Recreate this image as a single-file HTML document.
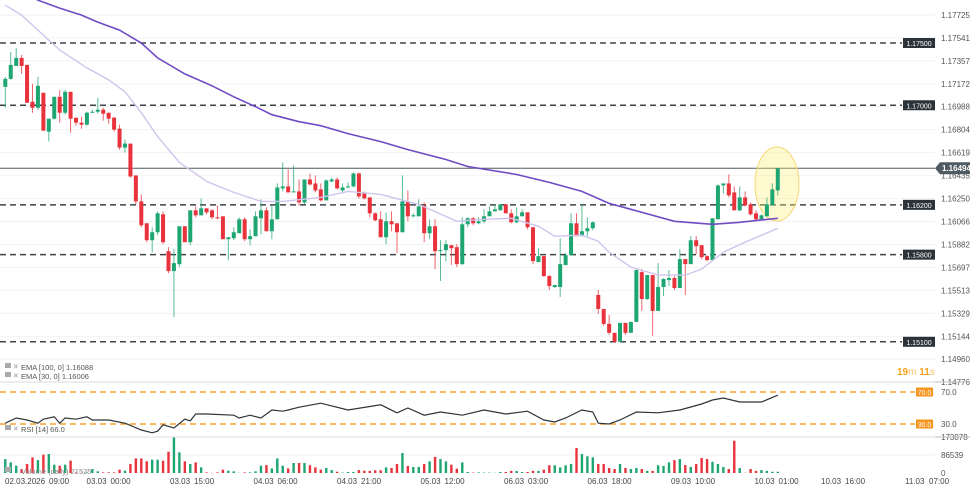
<!DOCTYPE html>
<html><head><meta charset="utf-8"><style>
html,body{margin:0;padding:0;background:#fff;}
body{width:970px;height:492px;overflow:hidden;font-family:"Liberation Sans",sans-serif;}
svg text{font-family:"Liberation Sans",sans-serif;}
</style></head><body>
<svg id="chart" width="970" height="492" viewBox="0 0 970 492" xmlns="http://www.w3.org/2000/svg">
<g id="grid"></g>
<g id="levels"></g>
<ellipse cx="777" cy="184" rx="22" ry="37" fill="rgba(255,238,120,0.35)" stroke="#f6d872" stroke-width="1"/>
<g id="candles"></g>
<g id="emas"></g>
<g id="rsi"></g>
<g id="vol"></g>
<g id="axis"></g>
<line x1="0" y1="382" x2="935" y2="382" stroke="#dcdcdc"/>
<line x1="0" y1="437" x2="935" y2="437" stroke="#dcdcdc"/>
<line x1="935" y1="382" x2="970" y2="382" stroke="#bbb"/>
<line x1="935" y1="437" x2="970" y2="437" stroke="#bbb"/>
<g><rect x="5" y="363" width="6" height="5" fill="#aaa"/><text x="13" y="369" font-size="7" fill="#999">✕</text><text x="21" y="370" font-size="7.5" fill="#555">EMA [100, 0] 1.16088</text></g>
<g><rect x="5" y="372" width="6" height="5" fill="#aaa"/><text x="13" y="378" font-size="7" fill="#999">✕</text><text x="21" y="379" font-size="7.5" fill="#555">EMA [30, 0] 1.16006</text></g>
<g><rect x="5" y="425" width="6" height="5" fill="#aaa"/><text x="13" y="431" font-size="7" fill="#999">✕</text><text x="21" y="432" font-size="7.5" fill="#555">RSI [14] 66.0</text></g>
<g><rect x="5" y="467" width="6" height="5" fill="#aaa"/><text x="21" y="474" font-size="7.5" fill="#888">Volume (daily) 21525</text></g>
<text x="897" y="375" font-size="10" fill="#f7a21c" font-weight="bold">19<tspan font-weight="normal" fill="#f9c06b">m</tspan> 11<tspan font-weight="normal" fill="#f9c06b">s</tspan></text>
</svg>
<script>
const opens=[1.17148,1.17212,1.17316,1.17380,1.17324,1.17028,1.16980,1.17100,1.16788,1.16892,1.17068,1.16940,1.17108,1.16900,1.16860,1.16844,1.16940,1.16948,1.16964,1.16940,1.16900,1.16812,1.16660,1.16692,1.16436,1.16228,1.16052,1.15916,1.15980,1.16124,1.15828,1.15668,1.15724,1.16028,1.15900,1.16156,1.16116,1.16172,1.16156,1.16100,1.16108,1.15924,1.15932,1.15972,1.16084,1.15924,1.15948,1.16092,1.16156,1.15988,1.16084,1.16332,1.16348,1.16300,1.16308,1.16220,1.16404,1.16372,1.16324,1.16236,1.16388,1.16404,1.16316,1.16340,1.16348,1.16452,1.16292,1.16260,1.16132,1.16084,1.15940,1.16068,1.16052,1.15980,1.16228,1.16108,1.16108,1.16196,1.15972,1.16028,1.15828,1.15836,1.15876,1.15860,1.15724,1.16044,1.16092,1.16052,1.16068,1.16108,1.16148,1.16156,1.16204,1.16132,1.16060,1.16108,1.16140,1.16020,1.15740,1.15788,1.15628,1.15540,1.15540,1.15716,1.15796,1.16052,1.15948,1.15988,1.16012,1.15476,1.15364,1.15244,1.15172,1.15100,1.15252,1.15172,1.15260,1.15660,1.15444,1.15636,1.15348,1.15540,1.15596,1.15612,1.15532,1.15764,1.15724,1.15916,1.15876,1.15788,1.15756,1.16084,1.16356,1.16372,1.16300,1.16156,1.16260,1.16204,1.16132,1.16084,1.16108,1.16196,1.16316];
const highs=[1.17228,1.17428,1.17460,1.17404,1.17324,1.17172,1.17228,1.17100,1.16892,1.17068,1.17124,1.17124,1.17108,1.16900,1.16908,1.16948,1.16964,1.17060,1.16980,1.16940,1.16908,1.16844,1.16724,1.16692,1.16436,1.16284,1.16052,1.16020,1.16148,1.16148,1.15860,1.15844,1.16028,1.16028,1.16156,1.16188,1.16252,1.16172,1.16164,1.16196,1.16108,1.15940,1.16020,1.16100,1.16100,1.16004,1.16148,1.16244,1.16180,1.16196,1.16372,1.16540,1.16484,1.16516,1.16404,1.16404,1.16452,1.16436,1.16372,1.16404,1.16420,1.16420,1.16372,1.16380,1.16460,1.16460,1.16308,1.16260,1.16140,1.16148,1.16140,1.16148,1.16052,1.16436,1.16316,1.16132,1.16244,1.16220,1.16084,1.16084,1.15916,1.15916,1.15876,1.15884,1.16100,1.16100,1.16100,1.16100,1.16164,1.16188,1.16204,1.16204,1.16204,1.16164,1.16180,1.16164,1.16140,1.16020,1.15852,1.15788,1.15636,1.15556,1.15932,1.15812,1.16132,1.16132,1.16204,1.16100,1.16068,1.15516,1.15364,1.15316,1.15172,1.15252,1.15252,1.15260,1.15684,1.15684,1.15636,1.15636,1.15732,1.15612,1.15676,1.15628,1.15844,1.15764,1.15948,1.15948,1.15876,1.15796,1.16092,1.16364,1.16372,1.16444,1.16348,1.16348,1.16308,1.16220,1.16156,1.16124,1.16260,1.16372,1.16492];
const lows=[1.16980,1.17204,1.17316,1.17252,1.17020,1.16940,1.16964,1.16796,1.16708,1.16884,1.16860,1.16924,1.16780,1.16836,1.16812,1.16836,1.16940,1.16932,1.16876,1.16852,1.16788,1.16644,1.16620,1.16420,1.16204,1.16020,1.15900,1.15820,1.15956,1.15884,1.15652,1.15300,1.15700,1.15900,1.15876,1.16100,1.16116,1.16124,1.16084,1.16084,1.15924,1.15756,1.15916,1.15972,1.15908,1.15876,1.15948,1.15964,1.15988,1.15924,1.16084,1.16308,1.16300,1.16300,1.16196,1.16204,1.16356,1.16300,1.16228,1.16236,1.16380,1.16324,1.16300,1.16332,1.16340,1.16252,1.16244,1.16100,1.16068,1.15940,1.15884,1.15988,1.15812,1.15980,1.16068,1.16100,1.16108,1.15900,1.15924,1.15684,1.15588,1.15748,1.15716,1.15700,1.15716,1.16020,1.16036,1.16044,1.16052,1.16132,1.16148,1.16156,1.16132,1.16052,1.16052,1.16108,1.16004,1.15724,1.15740,1.15620,1.15516,1.15532,1.15460,1.15716,1.15796,1.15948,1.15948,1.15948,1.15996,1.15324,1.15228,1.15156,1.15092,1.15100,1.15156,1.15172,1.15260,1.15348,1.15436,1.15148,1.15348,1.15468,1.15548,1.15516,1.15532,1.15476,1.15724,1.15804,1.15764,1.15748,1.15756,1.16084,1.16292,1.16260,1.16156,1.16148,1.16188,1.16116,1.16076,1.16076,1.16108,1.16196,1.16276];
const closes=[1.17212,1.17324,1.17380,1.17316,1.17020,1.16980,1.17156,1.16796,1.16892,1.17068,1.16940,1.17108,1.16892,1.16860,1.16844,1.16940,1.16948,1.16964,1.16932,1.16892,1.16804,1.16660,1.16692,1.16428,1.16228,1.16036,1.15916,1.15980,1.16132,1.15900,1.15668,1.15732,1.16028,1.15900,1.16156,1.16116,1.16172,1.16140,1.16100,1.16092,1.15924,1.15940,1.15980,1.16084,1.15924,1.15948,1.16108,1.16156,1.15988,1.16084,1.16340,1.16348,1.16300,1.16308,1.16220,1.16404,1.16364,1.16316,1.16236,1.16396,1.16404,1.16332,1.16340,1.16348,1.16452,1.16268,1.16252,1.16132,1.16076,1.15940,1.16068,1.16044,1.15980,1.16228,1.16108,1.16116,1.16188,1.15972,1.16028,1.15828,1.15836,1.15884,1.15852,1.15724,1.16044,1.16092,1.16052,1.16068,1.16108,1.16148,1.16164,1.16204,1.16132,1.16060,1.16108,1.16140,1.16020,1.15748,1.15788,1.15628,1.15548,1.15556,1.15724,1.15796,1.16052,1.15948,1.15988,1.16012,1.16060,1.15364,1.15244,1.15172,1.15100,1.15252,1.15172,1.15260,1.15676,1.15444,1.15636,1.15348,1.15540,1.15604,1.15612,1.15532,1.15764,1.15724,1.15916,1.15868,1.15780,1.15756,1.16092,1.16356,1.16372,1.16276,1.16156,1.16260,1.16196,1.16124,1.16084,1.16116,1.16204,1.16324,1.16494];
const volumes=[67000,51000,35000,19000,43000,75000,62000,88000,91000,40000,35000,40000,59000,3000,1000,3000,19000,8000,3000,3000,3000,16000,11000,43000,70000,70000,56000,64000,64000,59000,102000,171000,99000,56000,43000,51000,27000,3000,1000,3000,16000,11000,8000,1000,3000,3000,8000,35000,38000,22000,70000,35000,22000,48000,48000,48000,37000,27000,16000,24000,14000,6000,2000,5000,5000,14000,11000,10000,13000,13000,27000,24000,43000,96000,34000,29000,29000,43000,56000,77000,67000,56000,40000,21000,51000,5000,2000,3000,2000,2000,1000,5000,5000,10000,10000,5000,5000,10000,10000,16000,37000,37000,27000,37000,43000,120000,91000,80000,75000,43000,43000,24000,19000,43000,24000,19000,24000,19000,10000,10000,37000,34000,51000,62000,67000,38000,29000,43000,72000,67000,54000,43000,29000,19000,155000,24000,1000,19000,10000,14000,10000,6000,6000,6000,10000,14000,24000];
const ema100Idx=[0,6,10,14,17,21,25,28,33,38,42,46,49,54,58,63,69,74,81,85,94,100,106,111,115,123,130,135,142];
const ema100Vals=[1.18044,1.17844,1.17780,1.17724,1.17668,1.17604,1.17500,1.17380,1.17252,1.17156,1.17068,1.16988,1.16924,1.16868,1.16836,1.16772,1.16708,1.16644,1.16564,1.16508,1.16444,1.16380,1.16308,1.16212,1.16164,1.16068,1.16044,1.16060,1.16092];
const ema30Idx=[0,3,6,10,15,19,22,25,28,32,37,42,47,51,58,63,69,76,83,88,93,98,101,106,109,111,115,120,125,128,132,136,142];
const ema30Vals=[1.17804,1.17724,1.17604,1.17444,1.17300,1.17204,1.17108,1.16940,1.16748,1.16540,1.16388,1.16300,1.16228,1.16228,1.16260,1.16308,1.16284,1.16204,1.16068,1.16084,1.16092,1.16028,1.15948,1.15956,1.15908,1.15820,1.15700,1.15636,1.15636,1.15684,1.15820,1.15900,1.16012];
const rsiIdx=[0,2,4,6,7,9,10,11,13,15,16,19,22,25,27,28,29,31,33,34,35,37,42,43,45,47,49,51,52,54,58,63,69,72,74,77,80,84,88,92,96,99,101,103,106,108,109,111,113,116,120,124,128,130,132,135,139,142];
const rsiVals=[31,37.5,35,31,36,39,31,37.5,36,39,35,35,31,22.5,19,21,29,25,36,34,42.5,42.5,41,37.5,41,37.5,47.5,46,47.5,51,56,47.5,54,44,50,41,45,41,47.5,42.5,46,35,32.5,37.5,47.5,45,31,30,35,45,44,47.5,55,60,62.5,57.5,57.5,66];
const priceTicks=[1.17725,1.17541,1.17357,1.17172,1.16988,1.16804,1.16619,1.16435,1.16250,1.16066,1.15882,1.15697,1.15513,1.15329,1.15144,1.14960,1.14776];
const levelValues=[1.17500,1.17000,1.16200,1.15800,1.15100];
const lastPrice=1.16494;
const timeDates=["02.03.2026","03.03","03.03","04.03","04.03","05.03","06.03","06.03","09.03","10.03","10.03","11.03"];
const timeHours=["09:00","00:00","15:00","06:00","21:00","12:00","03:00","18:00","10:00","01:00","16:00","07:00"];
const volTicks=[173078,86539,0];

const NS="http://www.w3.org/2000/svg";
function mk(tag,attrs,parent){const e=document.createElementNS(NS,tag);for(const k in attrs)e.setAttribute(k,attrs[k]);parent.appendChild(e);return e;}
const xOf=i=>5.3+5.44*i;
const yP=p=>43+(1.175-p)*12450;
const yR=v=>392+(70-v)*0.8;
const yV=v=>473-v/4800;
const labelX=j=>j===0?5:(j<10?3+83.5*j:821+84*(j-10));
const G=document.getElementById('grid'),L=document.getElementById('levels'),C=document.getElementById('candles'),E=document.getElementById('emas'),R=document.getElementById('rsi'),V=document.getElementById('vol'),A=document.getElementById('axis');
const UP='#1ea672',DN='#e8323c';

priceTicks.forEach(t=>{
 const y=yP(t);
 const g=mk('line',{x1:0,x2:935,y1:y,y2:y,stroke:'#f2f2f2'},G);
 
 
 const tx=mk('text',{x:941,y:y+3,'font-size':8,fill:'#555'},A);
 
 
 tx.textContent=t.toFixed(5);
});
volTicks.forEach(t=>{
 const y=yV(t);
 if(t>0){const g=mk('line',{x1:0,x2:935,y1:y,y2:y,stroke:'#f0f0f0'},G);
 
 }
 const tx=mk('text',{x:941,y:y+3,'font-size':8,fill:'#555'},A);
 
 
 tx.textContent=String(t);
});
levelValues.forEach(v=>{
 const y=yP(v);
 const l=mk('line',{x1:0,x2:902,y1:y,y2:y,stroke:'#3d4448','stroke-width':1.5,'stroke-dasharray':'6,4'},L);
 
 
 const r=mk('rect',{x:903,y:y-5,width:32,height:10,fill:'#2b3338'},L);
 
 
 const t=mk('text',{x:919,y:y+3,'font-size':7,fill:'#fff','text-anchor':'middle'},L);
 
 
 t.textContent=v.toFixed(5);
});
{
 const y=yP(lastPrice);
 const l=mk('line',{x1:0,x2:935,y1:y,y2:y,stroke:'#4f5a61','stroke-width':1},L);
 
 
 const p=mk('path',{d:`M935 ${y} L940 ${y-6} L970 ${y-6} L970 ${y+6} L940 ${y+6} Z`,fill:'#4f5a61'},A);
 
 
 const t=mk('text',{x:942,y:y+3,'font-size':8,fill:'#fff','font-weight':'bold'},A);
 
 
 t.textContent=lastPrice.toFixed(5);
}
closes.forEach((c,i)=>{
 const o=opens[i],h=highs[i],lo=lows[i],x=xOf(i),col=c>=o?UP:DN;
 const w=mk('line',{x1:x,x2:x,y1:yP(h),y2:yP(lo),stroke:col,'stroke-width':1,opacity:0.75},C);
 
 
 const top=Math.min(yP(o),yP(c)),bh=Math.max(1,Math.abs(yP(o)-yP(c)));
 const b=mk('rect',{x:x-2,y:top,width:4,height:bh,fill:col},C);
 
 
 const vv=volumes[i]||0;
 const vb=mk('rect',{x:x-1.2,y:yV(vv),width:2.4,height:Math.max(0,473-yV(vv)),fill:col},V);
 
 
});
function pathFrom(idx,vals,fy){return idx.map((k,j)=>(j?'L':'M')+xOf(k).toFixed(1)+' '+fy(vals[j]).toFixed(1)).join(' ');}
mk('clipPath',{id:'pc'},E);
mk('rect',{x:0,y:0,width:935,height:382},document.getElementById('pc'));
const e100=mk('path',{d:pathFrom(ema100Idx,ema100Vals,yP),fill:'none',stroke:'#6f4bc4','stroke-width':1.6,'clip-path':'url(#pc)'},E);


const e30=mk('path',{d:pathFrom(ema30Idx,ema30Vals,yP),fill:'none',stroke:'#cfc5ec','stroke-width':1.4,'clip-path':'url(#pc)'},E);


[70,30].forEach(v=>{
 const y=yR(v);
 const l=mk('line',{x1:0,x2:915,y1:y,y2:y,stroke:'#f7a031','stroke-width':1.5,'stroke-dasharray':'6,4'},R);
 
 
 const r=mk('rect',{x:916,y:y-4.5,width:17,height:9,fill:'#f7941d'},R);
 
 
 const t=mk('text',{x:924.5,y:y+3,'font-size':7,fill:'#fff','text-anchor':'middle'},R);
 
 
 t.textContent=v.toFixed(1);
 const a=mk('text',{x:941,y:y+3,'font-size':8,fill:'#555'},A);
 
 
 a.textContent=v.toFixed(1);
});
const rl=mk('path',{d:pathFrom(rsiIdx,rsiVals,yR),fill:'none',stroke:'#2e3538','stroke-width':1.2},R);


timeDates.forEach((d,j)=>{
 const x=labelX(j);
 const t=mk('text',{x:x,y:484,'font-size':8,fill:'#444'},A);
 
 
 t.textContent=d;
 const h=mk('text',{x:x+(j===0?44:24),y:484,'font-size':8,fill:'#444'},A);
 
 
 h.textContent=timeHours[j];
});
</script>
</body></html>
